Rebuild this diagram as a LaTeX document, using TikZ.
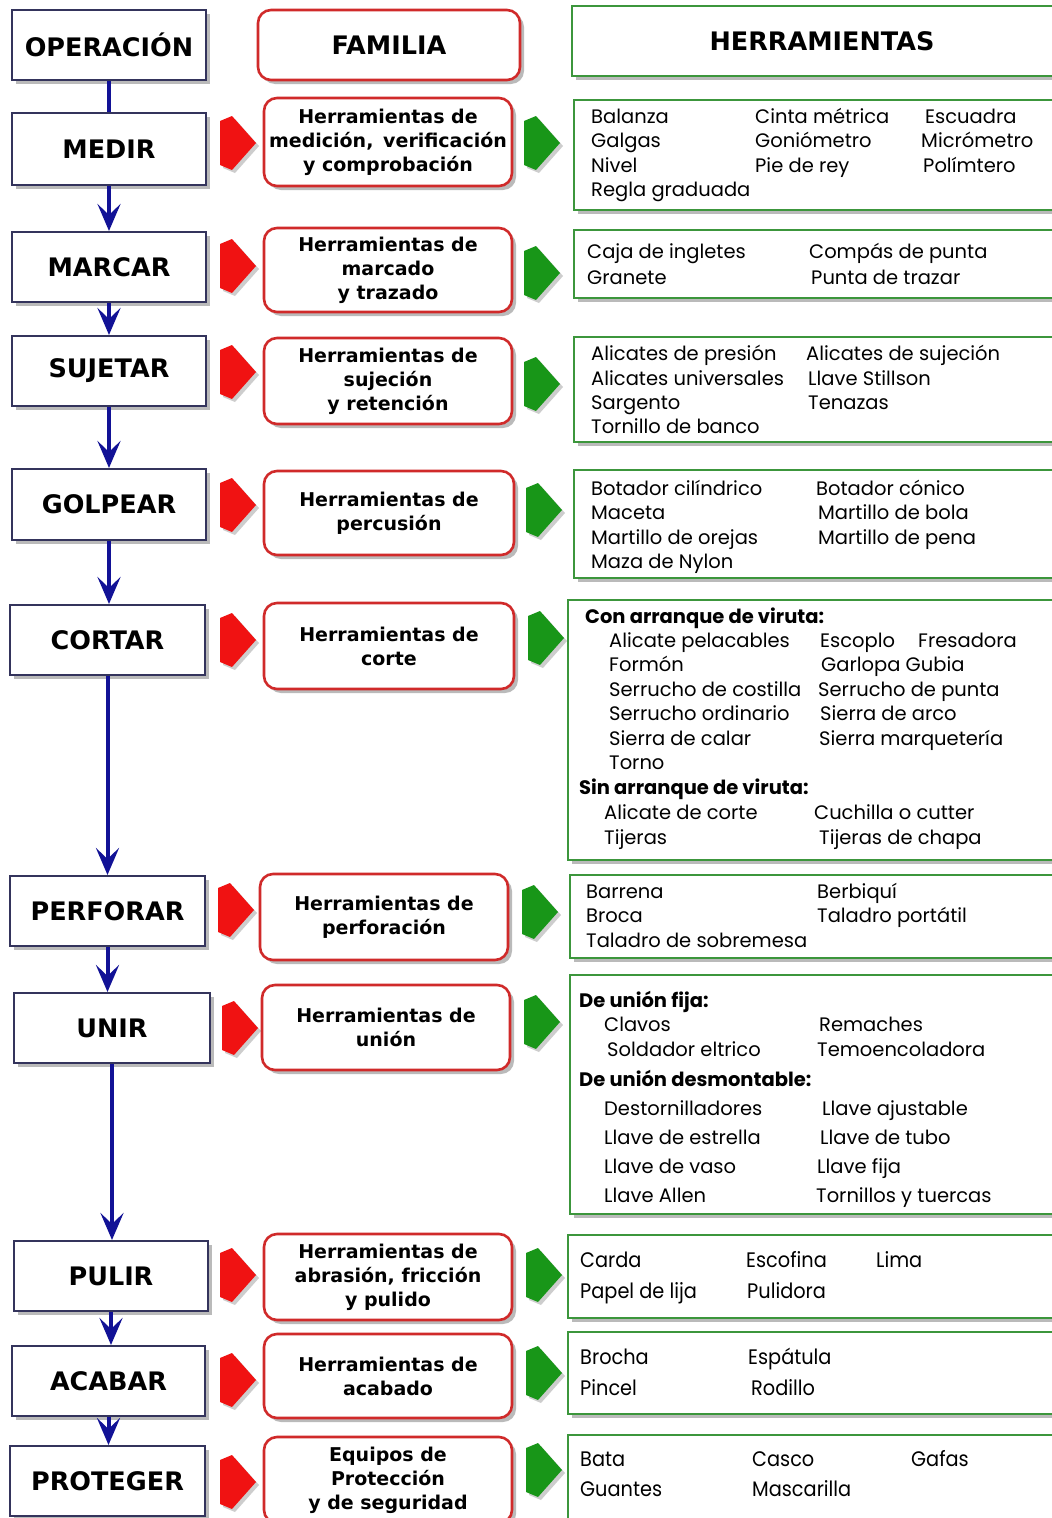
\documentclass[tikz,border=0pt]{standalone}
\usepackage{fontspec}
\newfontfamily\hfont{DejaVu Sans}
\newfontfamily\ifont{Poppins}
\newfontfamily\ifontc{Poppins}[FakeStretch=0.92]
\usetikzlibrary{shadows,arrows.meta}
\definecolor{opc}{RGB}{52,52,92}
\definecolor{famc}{RGB}{208,42,42}
\definecolor{herc}{RGB}{60,150,60}
\definecolor{blueA}{RGB}{18,18,150}
\definecolor{redA}{RGB}{240,18,18}
\definecolor{greenA}{RGB}{24,150,24}
\newcounter{itc}
\newcommand\itm[3]{\stepcounter{itc}\node[itemtxt] (it\arabic{itc}) at (#1,#2) {#3};}
\newcommand\itb[3]{\stepcounter{itc}\node[itemtxt,font=\ifont\bfseries\fontsize{19.5}{22}\selectfont] (it\arabic{itc}) at (#1,#2) {#3};}
\newcommand\itc[3]{\stepcounter{itc}\node[itemtxt,font=\ifontc\fontsize{21}{24}\selectfont] (it\arabic{itc}) at (#1,#2) {#3};}
\begin{document}
\begin{tikzpicture}[x=1pt,y=-1pt,
  shadowed/.style={drop shadow={shadow xshift=4pt,shadow yshift=-4pt,opacity=0.38,fill=black!70}},
  ashadowed/.style={drop shadow={shadow xshift=3pt,shadow yshift=-3pt,opacity=0.28,fill=black!70}},
  opbox/.style={draw=opc,line width=2pt,fill=white,shadowed,inner sep=0pt,
    font=\hfont\bfseries\fontsize{25.5}{30}\selectfont},
  fambox/.style={draw=famc,line width=2.6pt,fill=white,rounded corners=13pt,shadowed,inner sep=0pt,
    align=center,font=\hfont\bfseries\fontsize{19}{24}\selectfont},
  herbox/.style={draw=herc,line width=2.6pt,fill=white,shadowed,inner sep=0pt},
  itemtxt/.style={anchor=mid west,inner sep=0pt,yshift=-4pt,font=\ifont\fontsize{19.5}{22}\selectfont},
  bluearr/.style={draw=blueA,line width=4pt,-{Stealth[length=27pt,width=23pt,inset=11pt]}},
  blueline/.style={draw=blueA,line width=4pt},
  redarr/.style={fill=redA,ashadowed},
  greenarr/.style={fill=greenA,ashadowed},
  blockarr/.pic={\path[#1] (0,-22) -- (12,-27) -- (36,0) -- (12,27) -- (0,22) -- cycle;}
]
\useasboundingbox (0,0) rectangle (1052,1518);
\fill[white] (0,0) rectangle (1052,1518);

% operation boxes
\node[opbox,minimum width=194pt,minimum height=70pt] (o0) at (109,45) {OPERACIÓN};
\node[opbox,minimum width=194pt,minimum height=72pt] (o1) at (109,149) {MEDIR};
\node[opbox,minimum width=194pt,minimum height=70pt] (o2) at (109,267) {MARCAR};
\node[opbox,minimum width=194pt,minimum height=70pt] (o3) at (109,371) {SUJETAR};
\node[opbox,minimum width=194pt,minimum height=71pt] (o4) at (109,504.5) {GOLPEAR};
\node[opbox,minimum width=195pt,minimum height=70pt] (o5) at (107.5,640) {CORTAR};
\node[opbox,minimum width=195pt,minimum height=70pt] (o6) at (107.5,911) {PERFORAR};
\node[opbox,minimum width=196pt,minimum height=70pt] (o7) at (112,1028) {UNIR};
\node[opbox,minimum width=194pt,minimum height=70pt] (o8) at (111,1276) {PULIR};
\node[opbox,minimum width=193pt,minimum height=70pt] (o9) at (108.5,1381) {ACABAR};
\node[opbox,minimum width=195pt,minimum height=70pt] (o10) at (107.5,1481) {PROTEGER};

% vertical connectors
\draw[blueline] (o0.south) -- (o0.south |- o1.north);
\draw[bluearr] (o1.south) -- (o1.south |- o2.north);
\draw[bluearr] (o2.south) -- (o2.south |- o3.north);
\draw[bluearr] (o3.south) -- (o3.south |- o4.north);
\draw[bluearr] (o4.south) -- (o4.south |- o5.north);
\draw[bluearr] (o5.south) -- (o5.south |- o6.north);
\draw[bluearr] (o6.south) -- (o6.south |- o7.north);
\draw[bluearr] (o7.south) -- (o7.south |- o8.north);
\draw[bluearr] (o8.south) -- (o8.south |- o9.north);
\draw[bluearr] (o9.south) -- (o9.south |- o10.north);

% family boxes
\node[fambox,minimum width=262pt,minimum height=70pt,font=\hfont\bfseries\fontsize{25.5}{30}\selectfont] (f0) at (389,45) {FAMILIA};
\node[fambox,minimum width=248pt,minimum height=88pt] (f1) at (388,142) {Herramientas de\\medición,\, verificación\\y comprobación};
\node[fambox,minimum width=248pt,minimum height=84pt] (f2) at (388,270) {Herramientas de\\marcado\\y trazado};
\node[fambox,minimum width=248pt,minimum height=86pt] (f3) at (388,381) {Herramientas de\\sujeción\\y retención};
\node[fambox,minimum width=250pt,minimum height=84pt] (f4) at (389,513) {Herramientas de\\percusión};
\node[fambox,minimum width=250pt,minimum height=86pt] (f5) at (389,646) {Herramientas de\\corte};
\node[fambox,minimum width=248pt,minimum height=86pt] (f6) at (384,917) {Herramientas de\\perforación};
\node[fambox,minimum width=248pt,minimum height=85pt] (f7) at (386,1027.5) {Herramientas de\\unión};
\node[fambox,minimum width=248pt,minimum height=86pt] (f8) at (388,1277) {Herramientas de\\abrasión, fricción\\y pulido};
\node[fambox,minimum width=248pt,minimum height=84pt] (f9) at (388,1376) {Herramientas de\\acabado};
\node[fambox,minimum width=248pt,minimum height=86pt] (f10) at (388,1480) {Equipos de\\Protección\\y de seguridad};

% tool boxes
\node[herbox,minimum width=500pt,minimum height=70pt,font=\hfont\bfseries\fontsize{25.5}{30}\selectfont] (h0) at (822,41) {HERRAMIENTAS};
\node[herbox,minimum width=490pt,minimum height=110pt] (h1) at (819,155) {};
\node[herbox,minimum width=490pt,minimum height=68pt] (h2) at (819,264) {};
\node[herbox,minimum width=490pt,minimum height=105pt] (h3) at (819,389.5) {};
\node[herbox,minimum width=490pt,minimum height=108pt] (h4) at (819,524) {};
\node[herbox,minimum width=496pt,minimum height=260pt] (h5) at (816,730) {};
\node[herbox,minimum width=494pt,minimum height=83pt] (h6) at (817,916.5) {};
\node[herbox,minimum width=494pt,minimum height=239pt] (h7) at (817,1094.5) {};
\node[herbox,minimum width=496pt,minimum height=83pt] (h8) at (816,1276.5) {};
\node[herbox,minimum width=496pt,minimum height=82pt] (h9) at (816,1373) {};
\node[herbox,minimum width=496pt,minimum height=90pt] (h10) at (816,1480) {};

% block arrows
\pic at (220,143) {blockarr=redarr};
\pic at (220,266) {blockarr=redarr};
\pic at (220,372) {blockarr=redarr};
\pic at (220,505) {blockarr=redarr};
\pic at (220,640) {blockarr=redarr};
\pic at (218,910) {blockarr=redarr};
\pic at (222,1028) {blockarr=redarr};
\pic at (220,1275) {blockarr=redarr};
\pic at (220,1380) {blockarr=redarr};
\pic at (220,1482) {blockarr=redarr};
\pic at (524,143) {blockarr=greenarr};
\pic at (524,273) {blockarr=greenarr};
\pic at (524,384) {blockarr=greenarr};
\pic at (526,510) {blockarr=greenarr};
\pic at (528,638) {blockarr=greenarr};
\pic at (522,912) {blockarr=greenarr};
\pic at (524,1022) {blockarr=greenarr};
\pic at (526,1275) {blockarr=greenarr};
\pic at (526,1373) {blockarr=greenarr};
\pic at (526,1470) {blockarr=greenarr};

% MEDIR
\itm{591}{117}{Balanza}\itm{755}{117}{Cinta métrica}\itm{925}{117}{Escuadra}
\itm{591}{141}{Galgas}\itm{755}{141}{Goniómetro}\itm{921}{141}{Micrómetro}
\itm{591}{166}{Nivel}\itm{755}{166}{Pie de rey}\itm{923}{166}{Polímtero}
\itm{591}{190}{Regla graduada}
% MARCAR
\itm{587}{252}{Caja de ingletes}\itm{809}{252}{Compás de punta}
\itm{587}{278}{Granete}\itm{811}{278}{Punta de trazar}
% SUJETAR
\itm{591}{354}{Alicates de presión}\itm{806}{354}{Alicates de sujeción}
\itm{591}{379}{Alicates universales}\itm{808}{379}{Llave Stillson}
\itm{591}{403}{Sargento}\itm{808}{403}{Tenazas}
\itm{591}{427}{Tornillo de banco}
% GOLPEAR
\itm{591}{489}{Botador cilíndrico}\itm{816}{489}{Botador cónico}
\itm{591}{513}{Maceta}\itm{818}{513}{Martillo de bola}
\itm{591}{538}{Martillo de orejas}\itm{818}{538}{Martillo de pena}
\itm{591}{562}{Maza de Nylon}
% CORTAR
\itb{585}{617}{Con arranque de viruta:}
\itm{609}{641}{Alicate pelacables}\itm{820}{641}{Escoplo}\itm{918}{641}{Fresadora}
\itm{609}{665}{Formón}\itm{821}{665}{Garlopa Gubia}
\itm{609}{690}{Serrucho de costilla}\itm{818}{690}{Serrucho de punta}
\itm{609}{714}{Serrucho ordinario}\itm{820}{714}{Sierra de arco}
\itm{609}{739}{Sierra de calar}\itm{819}{739}{Sierra marquetería}
\itm{609}{763}{Torno}
\itb{579}{788}{Sin arranque de viruta:}
\itm{604}{813}{Alicate de corte}\itm{814}{813}{Cuchilla o cutter}
\itm{604}{838}{Tijeras}\itm{819}{838}{Tijeras de chapa}
% PERFORAR
\itm{586}{892}{Barrena}\itm{817}{892}{Berbiquí}
\itm{586}{916}{Broca}\itm{817}{916}{Taladro portátil}
\itm{586}{941}{Taladro de sobremesa}
% UNIR
\itb{579}{1001}{De unión fija:}
\itm{604}{1025}{Clavos}\itm{819}{1025}{Remaches}
\itm{607}{1050}{Soldador eltrico}\itm{817}{1050}{Temoencoladora}
\itb{579}{1080}{De unión desmontable:}
\itm{604}{1109}{Destornilladores}\itm{822}{1109}{Llave ajustable}
\itm{604}{1138}{Llave de estrella}\itm{820}{1138}{Llave de tubo}
\itm{604}{1167}{Llave de vaso}\itm{817}{1167}{Llave fija}
\itm{604}{1196}{Llave Allen}\itm{816}{1196}{Tornillos y tuercas}
% PULIR
\itc{580}{1261}{Carda}\itc{746}{1261}{Escofina}\itc{876}{1261}{Lima}
\itc{580}{1292}{Papel de lija}\itc{747}{1292}{Pulidora}
% ACABAR
\itc{580}{1358}{Brocha}\itc{748}{1358}{Espátula}
\itc{580}{1389}{Pincel}\itc{751}{1389}{Rodillo}
% PROTEGER
\itc{580}{1460}{Bata}\itc{752}{1460}{Casco}\itc{911}{1460}{Gafas}
\itc{580}{1490}{Guantes}\itc{752}{1490}{Mascarilla}
\end{tikzpicture}
\end{document}
